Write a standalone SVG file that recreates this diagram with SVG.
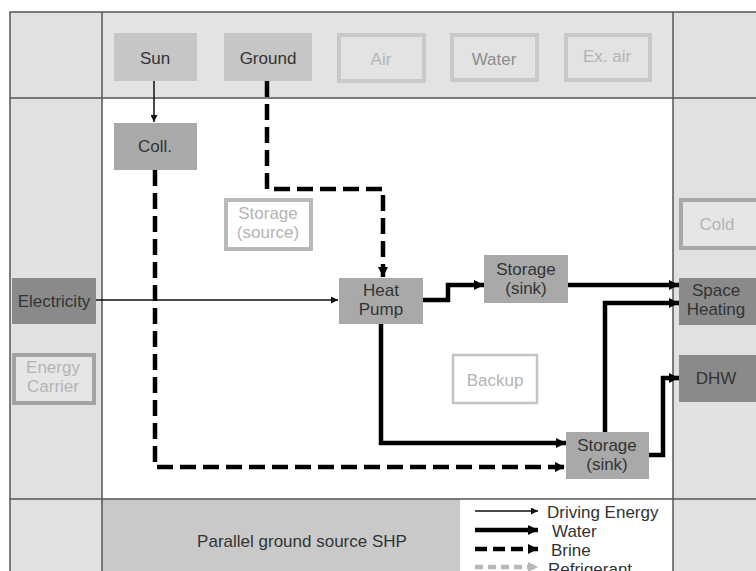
<svg xmlns="http://www.w3.org/2000/svg" width="756" height="571" viewBox="0 0 756 571">
<style>
text{font-family:"Liberation Sans",Arial,sans-serif;font-size:17px;text-anchor:middle}
.dark{fill:#333}
.mid{fill:#8c8c8c}
.light{fill:#b4b4b4}
.frame{stroke:#555;stroke-width:1.5;fill:none}
.thin{stroke:#111;stroke-width:1.5;fill:none}
.thick{stroke:#000;stroke-width:4.5;fill:none}
.brine{stroke:#000;stroke-width:4.5;fill:none;stroke-dasharray:16 7}
.refr{stroke:#b8b8b8;stroke-width:4.5;fill:none;stroke-dasharray:8 5}
</style>
<defs>
<marker id="aThin" markerUnits="userSpaceOnUse" viewBox="0 0 10 10" refX="10" refY="5" markerWidth="8" markerHeight="7" orient="auto"><path d="M0,0 L10,5 L0,10 z" fill="#111"/></marker>
<marker id="aThick" markerUnits="userSpaceOnUse" viewBox="0 0 10 10" refX="10" refY="5" markerWidth="11" markerHeight="10" orient="auto"><path d="M0,0 L10,5 L0,10 z" fill="#000"/></marker>
<marker id="aGray" markerUnits="userSpaceOnUse" viewBox="0 0 10 10" refX="10" refY="5" markerWidth="11" markerHeight="10" orient="auto"><path d="M0,0 L10,5 L0,10 z" fill="#b8b8b8"/></marker>
</defs>
<rect width="756" height="571" fill="#fff"/>
<g id="background">
<rect x="10" y="12" width="92" height="559" fill="#e1e1e1"/>
<rect x="102" y="12" width="571" height="86" fill="#e3e3e3"/>
<rect x="673" y="12" width="83" height="559" fill="#e1e1e1"/>
<rect x="102" y="499" width="358" height="72" fill="#c9c9c9"/>
<path class="frame" d="M10,571 V12 H756 M102,12 V571 M673,12 V571 M10,98 H756 M10,499 H756"/>
</g>
<g id="sun"><rect x="114" y="33" width="83" height="48" fill="#c6c6c6"/><text x="155" y="64" class="dark">Sun</text></g>
<g id="ground"><rect x="224" y="33" width="88" height="48" fill="#c6c6c6"/><text x="268" y="64" class="dark">Ground</text></g>
<g id="air"><rect x="339" y="35" width="85" height="46" fill="#e3e3e3" stroke="#c9c9c9" stroke-width="4"/><text x="381" y="65" class="light">Air</text></g>
<g id="water"><rect x="452" y="35" width="85" height="45" fill="#e3e3e3" stroke="#c9c9c9" stroke-width="4"/><text x="494" y="65" class="mid">Water</text></g>
<g id="exair"><rect x="566" y="35" width="84" height="45" fill="#e3e3e3" stroke="#c9c9c9" stroke-width="4"/><text x="607" y="62" class="light">Ex. air</text></g>
<g id="coll"><rect x="114" y="123" width="83" height="47" fill="#a9a9a9"/><text x="155" y="152" class="dark">Coll.</text></g>
<g id="storage-source"><rect x="226" y="200" width="85" height="49" fill="#fff" stroke="#b9b9b9" stroke-width="4"/><text x="268" y="219" class="light">Storage</text><text x="268" y="238" class="light">(source)</text></g>
<g id="electricity"><rect x="12" y="278" width="84" height="46" fill="#8a8a8a"/><text x="54" y="307" class="dark">Electricity</text></g>
<g id="energy-carrier"><rect x="14" y="355" width="80" height="48" fill="#e6e6e6" stroke="#a3a3a3" stroke-width="4"/><text x="53" y="373" class="light">Energy</text><text x="53" y="392" class="light">Carrier</text></g>
<g id="heat-pump"><rect x="339" y="278" width="84" height="46" fill="#a9a9a9"/><text x="381" y="296" class="dark">Heat</text><text x="381" y="315" class="dark">Pump</text></g>
<g id="storage-sink-upper"><rect x="484" y="255" width="84" height="48" fill="#a9a9a9"/><text x="526" y="275" class="dark">Storage</text><text x="526" y="294" class="dark">(sink)</text></g>
<g id="backup"><rect x="453" y="355" width="84" height="48" fill="#fff" stroke="#c4c4c4" stroke-width="2.5"/><text x="495" y="386" class="light">Backup</text></g>
<g id="storage-sink-lower"><rect x="566" y="432" width="83" height="47" fill="#a9a9a9"/><text x="607" y="451" class="dark">Storage</text><text x="607" y="470" class="dark">(sink)</text></g>
<g id="cold"><rect x="681" y="200" width="80" height="48" fill="#e6e6e6" stroke="#a8a8a8" stroke-width="4"/><text x="717" y="230" class="light">Cold</text></g>
<g id="space-heating"><rect x="679" y="278" width="80" height="47" fill="#8a8a8a"/><text x="716" y="296" class="dark">Space</text><text x="716" y="315" class="dark">Heating</text></g>
<g id="dhw"><rect x="679" y="355" width="80" height="47" fill="#8a8a8a"/><text x="716" y="384" class="dark">DHW</text></g>
<g id="title"><text x="302" y="547" class="dark">Parallel ground source SHP</text></g>
<g id="connectors">
<path class="thin" d="M154,81 V122" marker-end="url(#aThin)"/>
<path class="thin" d="M96,300 H338" marker-end="url(#aThin)"/>
<path class="brine" d="M267,81 V189 H383 V277" marker-end="url(#aThick)"/>
<path class="brine" d="M155,170 V467 H565" marker-end="url(#aThick)"/>
<path class="thick" d="M423,300 H448 V285 H484" marker-end="url(#aThick)"/>
<path class="thick" d="M568,285 H679" marker-end="url(#aThick)"/>
<path class="thick" d="M381,324 V443 H566" marker-end="url(#aThick)"/>
<path class="thick" d="M605,432 V303 H679" marker-end="url(#aThick)"/>
<path class="thick" d="M649,455 H663 V378 H679" marker-end="url(#aThick)"/>
</g>
<g id="legend">
<path class="thin" d="M475,511 H538" marker-end="url(#aThin)"/>
<path class="thick" d="M475,530 H538" marker-end="url(#aThick)"/>
<path class="brine" d="M475,549 H538" style="stroke-dasharray:12 6" marker-end="url(#aThick)"/>
<path class="refr" d="M475,567 H538" marker-end="url(#aGray)"/>
<text x="547" y="518" class="dark" style="text-anchor:start">Driving Energy</text>
<text x="552" y="537" class="dark" style="text-anchor:start">Water</text>
<text x="551" y="556" class="dark" style="text-anchor:start">Brine</text>
<text x="548" y="575" class="dark" style="text-anchor:start">Refrigerant</text>
</g>
</svg>
